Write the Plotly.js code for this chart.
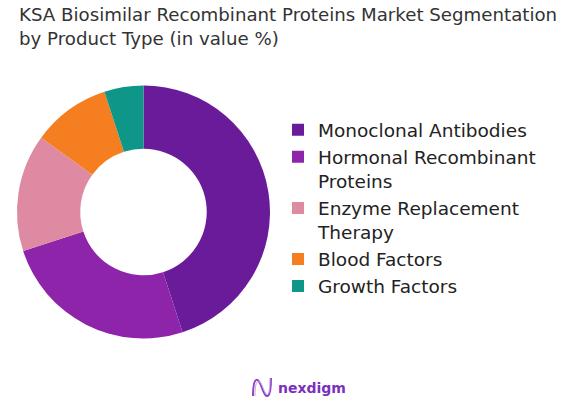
<!DOCTYPE html>
<html>
<head>
<meta charset="utf-8">
<script src="https://cdn.plot.ly/plotly-3.0.1.min.js"></script>
<style>html,body{margin:0;padding:0;background:#fff;}#chart{width:572px;height:414px;}</style>
</head>
<body>
<div id="chart"></div>
<script>
var categories = ["Monoclonal Antibodies", "Hormonal Recombinant<br>Proteins", "Enzyme Replacement<br>Therapy", "Blood Factors", "Growth Factors"];
var shares = [45, 25, 15, 10, 5];
var colors = ["#6A1B9A", "#8E24AA", "#DE8AA2", "#F57F20", "#0E9688"];
var titleText = "KSA Biosimilar Recombinant Proteins Market Segmentation<br>by Product Type (in value %)";

var trace = {
  type: "pie",
  labels: categories,
  values: shares,
  hole: 0.5,
  sort: false,
  direction: "clockwise",
  rotation: 0,
  textinfo: "none",
  hoverinfo: "label+percent",
  marker: {colors: colors, line: {width: 0}},
  domain: {x: [0.0297, 0.472], y: [0.1824, 0.7935]}
};

var layout = {
  width: 572, height: 414,
  margin: {l: 0, r: 0, t: 0, b: 0},
  paper_bgcolor: "#fff",
  font: {family: "DejaVu Sans, sans-serif", color: "#222"},
  showlegend: true,
  legend: {
    x: 278/572, xanchor: "left", y: 0.497, yanchor: "middle",
    valign: "top",
    font: {size: 18.5, color: "#222", family: "DejaVu Sans, sans-serif"},
    itemwidth: 30,
    tracegroupgap: 0
  },
  annotations: [{
    text: titleText, xref: "paper", yref: "paper",
    x: 17/572, y: 1 - 2/414, xanchor: "left", yanchor: "top", align: "left",
    showarrow: false, font: {size: 18.2, color: "#333", family: "DejaVu Sans, sans-serif"}
  }, {
    text: "<b>nexdigm</b>", xref: "paper", yref: "paper",
    x: 276/572, y: 1 - 388/414, xanchor: "left", yanchor: "middle",
    showarrow: false, font: {size: 14, color: "#7B2FBE", family: "DejaVu Sans, sans-serif"}
  }],
  shapes: [{
    type: "path", xref: "paper", yref: "paper",
    path: "M 0.4423 0.0435 C 0.4423 0.0918, 0.4510 0.0918, 0.4580 0.0628 C 0.4650 0.0338, 0.4738 0.0338, 0.4738 0.0870",
    line: {color: "#8E44C8", width: 2}
  }, {
    type: "path", xref: "paper", yref: "paper",
    path: "M 0.4458 0.0435 C 0.4458 0.0870, 0.4530 0.0870, 0.4600 0.0628 C 0.4670 0.0386, 0.4720 0.0386, 0.4720 0.0870",
    line: {color: "#C9A6E4", width: 1}
  }]
};

Plotly.newPlot("chart", [trace], layout, {displayModeBar: false, staticPlot: true});
</script>
</body>
</html>
